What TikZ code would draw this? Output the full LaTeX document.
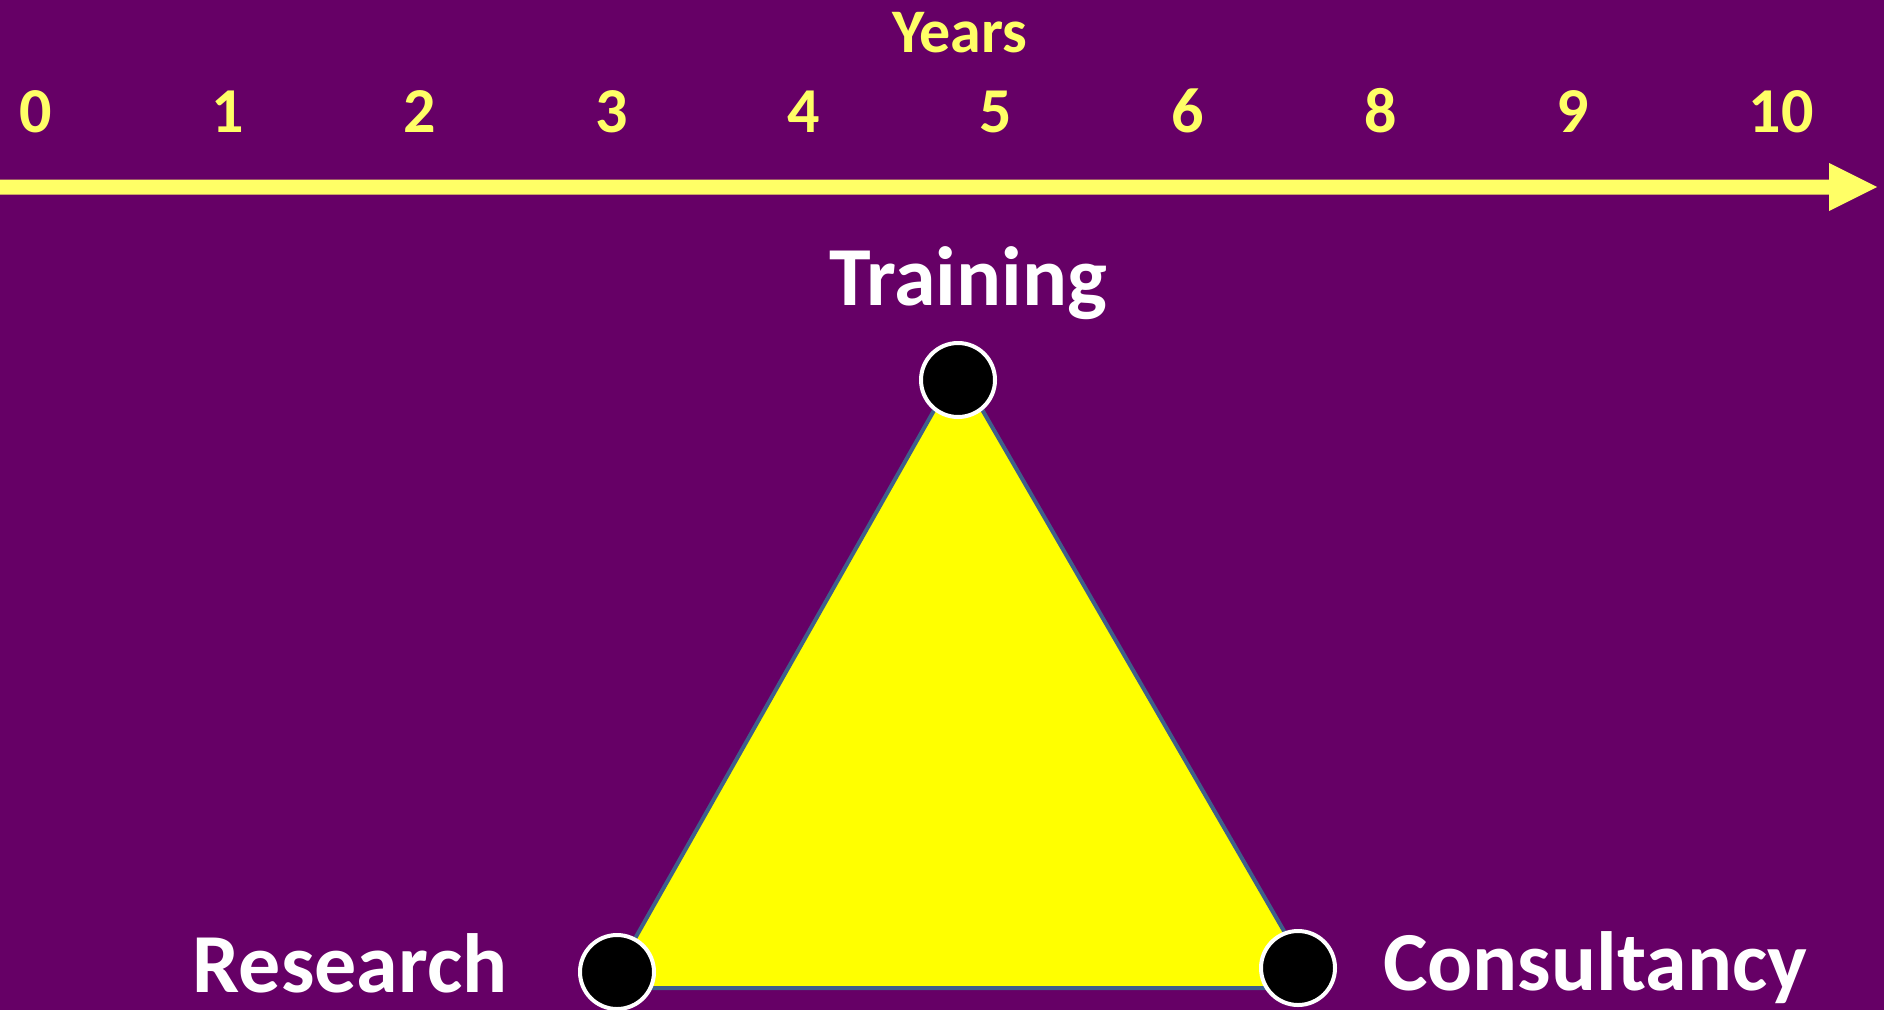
\documentclass[tikz,border=0pt]{standalone}
\usepackage{fontspec}
\setmainfont{Carlito}
\definecolor{bgpurple}{HTML}{660066}
\definecolor{axisyellow}{HTML}{FFFF66}
\definecolor{triyellow}{HTML}{FFFF00}
\definecolor{triedge}{HTML}{3F5F8A}
\begin{document}
\begin{tikzpicture}[x=1pt,y=-1pt,
  yearlbl/.style={inner sep=0pt,anchor=base,text=axisyellow,font=\fontsize{64}{64}\selectfont\bfseries},
  biglbl/.style={inner sep=0pt,anchor=base,text=white,font=\fontsize{84}{84}\selectfont\bfseries},
  dot/.style={circle,fill=black,draw=white,line width=4pt,minimum size=74pt,inner sep=0pt}]
\fill[bgpurple] (0,0) rectangle (1884,1010);
\useasboundingbox (0,0) rectangle (1884,1010);
% axis title and ticks
\node[yearlbl,font=\fontsize{62}{62}\selectfont\bfseries] (years) at (960,52) {Years};
\node[yearlbl] (y0) at (36,132) {0};
\node[yearlbl] (y1) at (228,132) {1};
\node[yearlbl] (y2) at (420,132) {2};
\node[yearlbl] (y3) at (612,132) {3};
\node[yearlbl] (y4) at (804,132) {4};
\node[yearlbl] (y5) at (996,132) {5};
\node[yearlbl] (y6) at (1188,132) {6};
\node[yearlbl] (y8) at (1381,132) {8};
\node[yearlbl] (y9) at (1573,132) {9};
\node[yearlbl] (y10) at (1781,132) {10};
% time arrow
\fill[axisyellow] (0,179.5) -- (1829,179.5) -- (1829,163) -- (1877,187) -- (1829,211) -- (1829,194.5) -- (0,194.5) -- cycle;
% triangle
\coordinate (ta) at (958,368);
\coordinate (tl) at (607,988);
\coordinate (tr) at (1317,988);
\filldraw[fill=triyellow,draw=triedge,line width=4pt,line join=miter] (ta) -- (tl) -- (tr) -- cycle;
% dots
\node[dot] (training) at (958,380) {};
\node[dot] (research) at (617,972) {};
\node[dot] (consult) at (1298,968) {};
% labels
\node[biglbl] (ltraining) at (968,305) {Training};
\node[biglbl] (lresearch) at (350,992) {Research};
\node[biglbl] (lconsult) at (1595,990) {Consultancy};
\end{tikzpicture}
\end{document}
